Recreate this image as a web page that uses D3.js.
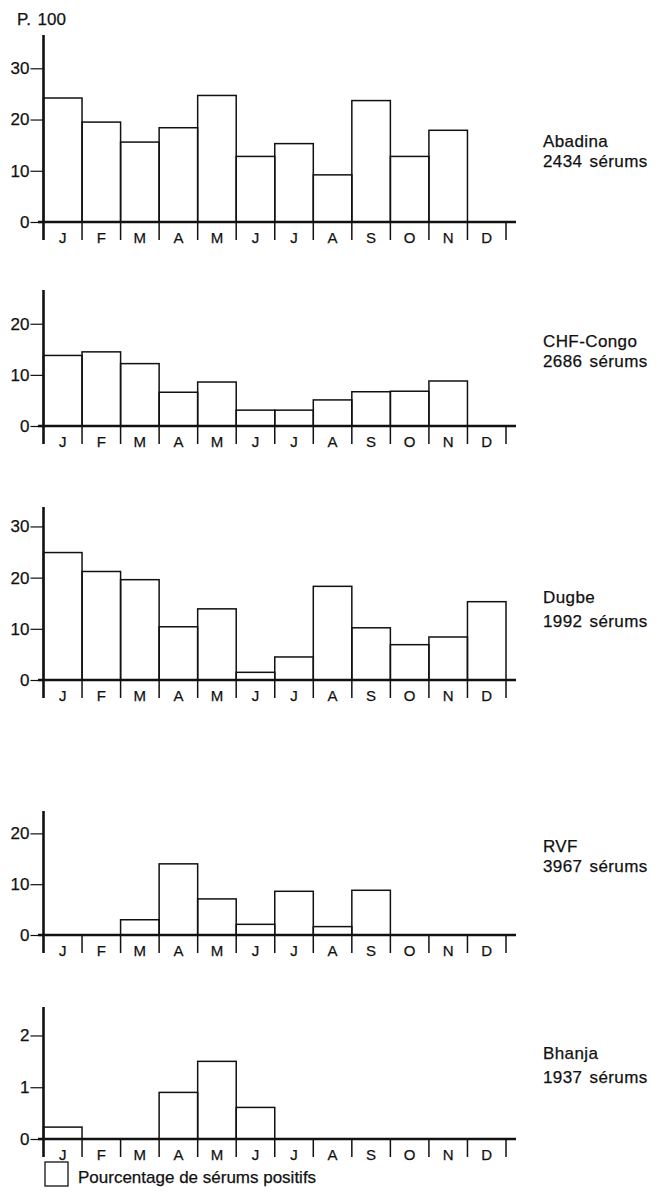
<!DOCTYPE html>
<html lang="fr">
<head>
<meta charset="utf-8">
<title>Pourcentage de sérums positifs</title>
<script src="https://d3js.org/d3.v7.min.js"></script>
<style>
 body { margin: 0; background: #fff; }
 text { font-family: "Liberation Sans", Arial, sans-serif; fill: #111; stroke: #111; stroke-width: 0.25px; }
</style>
</head>
<body>
<script>
// data
var months = ["J", "F", "M", "A", "M", "J", "J", "A", "S", "O", "N", "D"];
var names = ["Abadina", "CHF-Congo", "Dugbe", "RVF", "Bhanja"];
var counts = ["2434 sérums", "2686 sérums", "1992 sérums", "3967 sérums", "1937 sérums"];
var abadina = [24.2, 19.5, 15.6, 18.4, 24.7, 12.8, 15.3, 9.2, 23.7, 12.8, 17.9, 0];
var chfCongo = [13.8, 14.5, 12.2, 6.6, 8.6, 3.1, 3.1, 5.1, 6.7, 6.8, 8.8, 0];
var dugbe = [24.9, 21.2, 19.6, 10.4, 13.9, 1.5, 4.5, 18.3, 10.2, 6.9, 8.4, 15.3];
var rvf = [0, 0, 3.0, 14.0, 7.1, 2.1, 8.6, 1.65, 8.8, 0, 0, 0];
var bhanja = [0.23, 0, 0, 0.9, 1.5, 0.61, 0, 0, 0, 0, 0, 0];
var yTicks = [[0, 10, 20, 30], [0, 10, 20], [0, 10, 20, 30], [0, 10, 20], [0, 1, 2]];
var unitLabel = "P. 100";
var legendLabel = "Pourcentage de sérums positifs";

// layout of each panel (pixels)
var panels = [
    {values: abadina,  zero: 222,  top: 35,   max: 36.5, nameY: 147,  countY: 167},
    {values: chfCongo, zero: 426,  top: 290,  max: 26.6, nameY: 347,  countY: 367},
    {values: dugbe,    zero: 680,  top: 507,  max: 33.8, nameY: 603,  countY: 627},
    {values: rvf,      zero: 935,  top: 811,  max: 24.4, nameY: 852,  countY: 872},
    {values: bhanja,   zero: 1139, top: 1007, max: 2.55, nameY: 1059, countY: 1083}
];

var svg = d3.select("body").append("svg")
    .attr("width", 668)
    .attr("height", 1200);

var x = d3.scaleBand()
    .domain(d3.range(12))
    .range([43.5, 506])
    .padding(0);

panels.forEach(function (p, k) {
    var y = d3.scaleLinear().domain([0, p.max]).range([p.zero, p.top]);
    var g = svg.append("g");

    // bars
    g.selectAll("rect.bar")
        .data(p.values.map(function (v, i) { return {v: v, i: i}; })
              .filter(function (d) { return d.v > 0; }))
        .enter().append("rect")
        .attr("class", "bar")
        .attr("x", function (d) { return x(d.i); })
        .attr("y", function (d) { return y(d.v); })
        .attr("width", x.bandwidth())
        .attr("height", function (d) { return p.zero - y(d.v); })
        .attr("fill", "none")
        .attr("stroke", "#111")
        .attr("stroke-width", 1.5);

    // month boundary ticks
    var bounds = d3.range(13).map(function (i) {
        return i < 12 ? x(i) : x.range()[1];
    });
    g.selectAll("line.mtick")
        .data(bounds.slice(1))
        .enter().append("line")
        .attr("class", "mtick")
        .attr("x1", function (d) { return d; })
        .attr("x2", function (d) { return d; })
        .attr("y1", p.zero)
        .attr("y2", p.zero + 18)
        .attr("stroke", "#111")
        .attr("stroke-width", 1.5);

    // baseline
    g.append("line")
        .attr("x1", 38)
        .attr("x2", 516)
        .attr("y1", p.zero)
        .attr("y2", p.zero)
        .attr("stroke", "#111")
        .attr("stroke-width", 2.6);

    // month labels
    var xAxis = g.append("g")
        .attr("transform", "translate(0," + p.zero + ")")
        .call(d3.axisBottom(x).tickSize(0).tickPadding(10)
              .tickFormat(function (i) { return months[i]; }));
    xAxis.select(".domain").remove();
    xAxis.selectAll("text")
        .attr("font-size", "15px")
        .attr("font-family", "Liberation Sans, Arial, sans-serif")
        .attr("fill", "#111");

    // y axis
    var yAxis = g.append("g")
        .attr("transform", "translate(43.5,0)")
        .call(d3.axisLeft(y).tickValues(yTicks[k]).tickFormat(d3.format("d"))
              .tickSize(13).tickSizeOuter(0).tickPadding(1));
    yAxis.select(".domain").remove();
    yAxis.selectAll(".tick line").attr("stroke", "#111").attr("stroke-width", 1.2);
    yAxis.selectAll("text")
        .attr("font-size", "17px")
        .attr("font-family", "Liberation Sans, Arial, sans-serif")
        .attr("fill", "#111");
    g.append("line")
        .attr("x1", 43.5)
        .attr("x2", 43.5)
        .attr("y1", p.top)
        .attr("y2", p.zero + 18)
        .attr("stroke", "#111")
        .attr("stroke-width", 2.6);

    // panel label
    g.append("text")
        .attr("x", 543)
        .attr("y", p.nameY)
        .attr("font-size", "17px")
        .attr("letter-spacing", "0.4px")
        .text(names[k]);
    g.append("text")
        .attr("x", 543)
        .attr("y", p.countY)
        .attr("font-size", "17px")
        .attr("letter-spacing", "0.4px")
        .attr("word-spacing", "2px")
        .text(counts[k]);
});

// unit
svg.append("text")
    .attr("x", 17)
    .attr("y", 25)
    .attr("font-size", "17px")
    .attr("word-spacing", "2px")
    .text(unitLabel);

// legend
svg.append("rect")
    .attr("x", 45)
    .attr("y", 1162)
    .attr("width", 23)
    .attr("height", 24)
    .attr("fill", "none")
    .attr("stroke", "#111")
    .attr("stroke-width", 1.3);
svg.append("text")
    .attr("x", 78)
    .attr("y", 1183)
    .attr("font-size", "17px")
    .text(legendLabel);
</script>
</body>
</html>
